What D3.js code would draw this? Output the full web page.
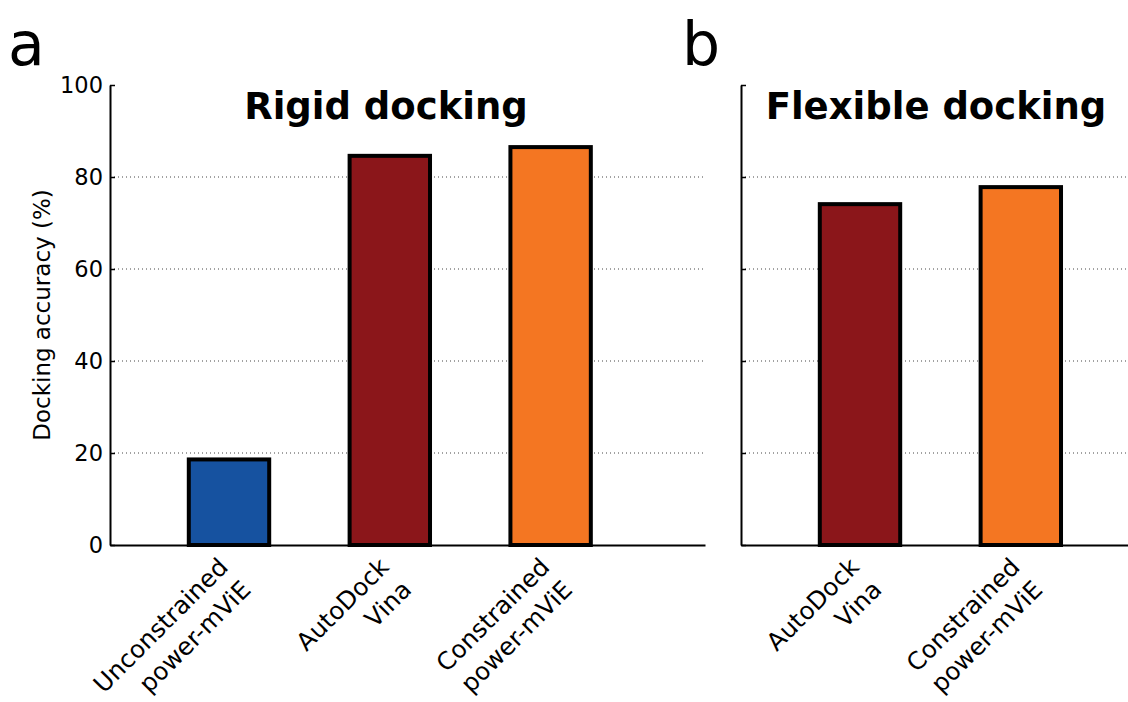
<!DOCTYPE html>
<html>
<head>
<meta charset="utf-8">
<script src="https://cdn.jsdelivr.net/npm/d3@7"></script>
<style>
  body { margin: 0; background: #fff; }
  svg { display: block; font-family: "DejaVu Sans", sans-serif; }
</style>
</head>
<body>
<script>
// data
var rigidMethods = ["Unconstrained\npower-mViE", "AutoDock\nVina", "Constrained\npower-mViE"];
var rigidAccuracy = [18.6, 84.6, 86.5];
var flexMethods = ["AutoDock\nVina", "Constrained\npower-mViE"];
var flexAccuracy = [74.1, 77.8];
var yTicks = [0, 20, 40, 60, 80, 100];
var gridTicks = [20, 40, 60, 80];

var methodColor = {
  "Unconstrained\npower-mViE": "#1652a0",
  "AutoDock\nVina": "#8b161a",
  "Constrained\npower-mViE": "#f47622"
};

var svgWidth = 1128, svgHeight = 702;
var svg = d3.select("body").append("svg")
  .attr("width", svgWidth)
  .attr("height", svgHeight);

var y = d3.scaleLinear().domain([0, 100]).range([545, 85]);

function drawPanel(left, methods, values, title, titleX, letter, letterX, showLabels) {
  var x = d3.scaleLinear().domain([-0.74, 2.96]).range([left, left + 595]);
  var g = svg.append("g");

  // dotted grid
  g.selectAll("line.grid")
    .data(gridTicks)
    .enter().append("line")
    .attr("class", "grid")
    .attr("x1", left).attr("x2", left + 595)
    .attr("y1", d => y(d)).attr("y2", d => y(d))
    .attr("stroke", "#444")
    .attr("stroke-width", 1)
    .attr("stroke-dasharray", "1,3");

  // bars
  var barW = x(0.5) - x(0);
  g.selectAll("rect.bar")
    .data(values)
    .enter().append("rect")
    .attr("class", "bar")
    .attr("x", (d, i) => x(i) - barW / 2)
    .attr("width", barW)
    .attr("y", d => y(d))
    .attr("height", d => y(0) - y(d))
    .attr("fill", (d, i) => methodColor[methods[i]])
    .attr("stroke", "#000")
    .attr("stroke-width", 4);

  // y axis
  var leftAxis = d3.axisLeft(y)
    .tickValues(yTicks)
    .tickSizeInner(-5)
    .tickSizeOuter(0)
    .tickPadding(7)
    .tickFormat(showLabels ? d3.format("d") : "");
  var ya = g.append("g")
    .attr("transform", `translate(${left},0)`)
    .call(leftAxis);
  ya.select(".domain").attr("stroke", "#000").attr("stroke-width", 2);
  ya.selectAll(".tick line").attr("stroke", "#000").attr("stroke-width", 1.5);
  ya.selectAll(".tick text")
    .attr("fill", "#000")
    .style("font-size", "22.5px")
    .style("font-family", "DejaVu Sans");

  // x axis spine
  var bottomAxis = d3.axisBottom(x).tickValues([]).tickSizeOuter(0);
  var xa = g.append("g")
    .attr("transform", `translate(0,${y(0)})`)
    .call(bottomAxis);
  xa.select(".domain").attr("stroke", "#000").attr("stroke-width", 2);

  // rotated two-line category labels
  methods.forEach(function(m, i) {
    var lines = m.split("\n");
    var t = g.append("text")
      .attr("transform", `translate(${x(i) + 0.5},568.5) rotate(-45)`)
      .attr("text-anchor", "end")
      .style("font-size", "24.5px")
      .attr("fill", "#000");
    lines.forEach(function(l, j) {
      t.append("tspan").attr("x", 0).attr("dy", j === 0 ? 0 : 32).text(l);
    });
  });

  // title
  g.append("text")
    .attr("x", titleX).attr("y", 119)
    .attr("text-anchor", "middle")
    .style("font-size", "37px")
    .style("font-weight", "bold")
    .text(title);

  // panel letter
  g.append("text")
    .attr("x", letterX).attr("y", 65)
    .style("font-size", "60px")
    .text(letter);
}

drawPanel(110, rigidMethods, rigidAccuracy, "Rigid docking", 386, "a", 8, true);
drawPanel(741, flexMethods, flexAccuracy, "Flexible docking", 936, "b", 682, false);

// y axis label
svg.append("text")
  .attr("transform", "translate(50,315) rotate(-90)")
  .attr("text-anchor", "middle")
  .style("font-size", "23px")
  .text("Docking accuracy (%)");
</script>
</body>
</html>
